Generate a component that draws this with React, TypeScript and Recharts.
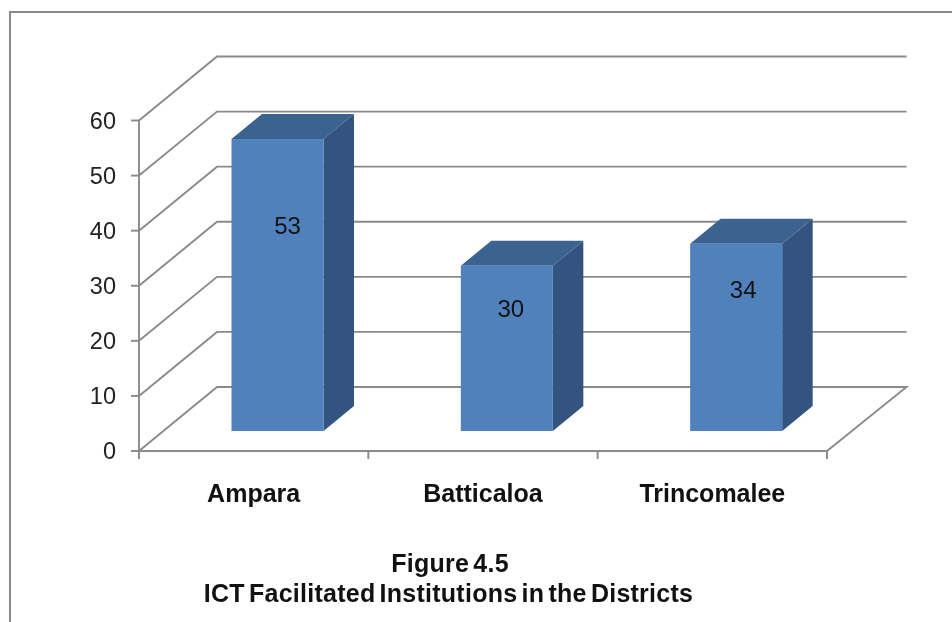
import React from "react";
import { BarChart, Bar, XAxis, YAxis, CartesianGrid, LabelList } from "recharts";

const districts = ["Ampara", "Batticaloa", "Trincomalee"];
const institutions = [53, 30, 34];
const yTicks = [0, 10, 20, 30, 40, 50, 60];
const titleLines = ["Figure 4.5", "ICT Facilitated Institutions in the Districts"];

const rows = districts.map((name, i) => ({ name, value: institutions[i] }));

const WIDTH = 952;
const HEIGHT = 622;
const PLOT_LEFT = 139;
const PLOT_RIGHT = 827;
const PLOT_TOP = 120.5;
const PLOT_BOTTOM = 451;
const BAND = (PLOT_RIGHT - PLOT_LEFT) / districts.length;
const WALL_DX = 78;
const WALL_RIGHT_EXTRA = 1.5;
const WALL_DY = -64;
const BAR_SHIFT_X = 23.5;
const BAR_SHIFT_Y = -20;
const BAR_DEPTH_X = 30.5;
const BAR_DEPTH_Y = -25;
const GREY = "#8a8a8a";
const LINE_W = 1.9;
const FONT = '"Liberation Sans", Arial, sans-serif';
const labelNudgeX = [10, 4, 7];
const labelNudgeY = [86, 43, 46];
const titleX = [450, 448.5];
const titleY = [572, 602];

const GridLine = (p: any) => {
  const { x1, x2, y1 } = p;
  const isFloor = Math.abs(y1 - PLOT_BOTTOM) < 1;
  const d = `M${x1},${y1} L${x1 + WALL_DX},${y1 + WALL_DY} L${x2 + WALL_DX + WALL_RIGHT_EXTRA},${y1 + WALL_DY}` +
    (isFloor ? ` L${x2},${y1}` : "");
  return <path key={p.key ?? y1} d={d} fill="none" stroke={GREY} strokeWidth={LINE_W} />;
};

const Box = (p: any) => {
  const { x, y, width, height } = p;
  const l = x + BAR_SHIFT_X;
  const r = l + width;
  const t = y + BAR_SHIFT_Y;
  const b = t + height;
  const dx = BAR_DEPTH_X;
  const dy = BAR_DEPTH_Y;
  return (
    <g>
      <polygon points={`${l},${t} ${r},${t} ${r + dx},${t + dy} ${l + dx},${t + dy}`} fill="#3c6290" />
      <polygon points={`${r},${t} ${r + dx},${t + dy} ${r + dx},${b + dy} ${r},${b}`} fill="#33547e" />
      <rect x={l} y={t} width={width} height={height} fill="#4f81bd" />
    </g>
  );
};

const ValueLabel = (p: any) => {
  const { x, y, width, value, index } = p;
  return (
    <text
      x={x + BAR_SHIFT_X + width / 2 + labelNudgeX[index]}
      y={y + BAR_SHIFT_Y + labelNudgeY[index]}
      textAnchor="middle"
      dominantBaseline="central"
      fontFamily={FONT}
      fontSize={24}
      fill="#111"
    >
      {value}
    </text>
  );
};

const CategoryTick = (p: any) => {
  const { x, payload, index } = p;
  const left = x - BAND / 2;
  return (
    <g>
      <line x1={left} x2={left} y1={PLOT_BOTTOM} y2={PLOT_BOTTOM + 8} stroke={GREY} strokeWidth={LINE_W} />
      {index === districts.length - 1 && (
        <line x1={left + BAND} x2={left + BAND} y1={PLOT_BOTTOM} y2={PLOT_BOTTOM + 8} stroke={GREY} strokeWidth={LINE_W} />
      )}
      <text x={x} y={PLOT_BOTTOM + 51} textAnchor="middle" fontFamily={FONT} fontWeight="bold" fontSize={25} fill="#111">
        {payload.value}
      </text>
    </g>
  );
};

export default function App() {
  return (
    <div style={{ position: "absolute", left: 0, top: 0, width: WIDTH, height: HEIGHT, background: "#fff", filter: "blur(0.55px)" }}>
      <BarChart
        width={WIDTH}
        height={HEIGHT}
        data={rows}
        barSize={92}
        margin={{ top: PLOT_TOP, right: WIDTH - PLOT_RIGHT, bottom: 0, left: 0 }}
      >
        <path d={`M10,${HEIGHT} L10,12 L${WIDTH},12`} fill="none" stroke={GREY} strokeWidth={2} />
        <CartesianGrid horizontal={GridLine} vertical={false} />
        <XAxis
          dataKey="name"
          height={HEIGHT - PLOT_BOTTOM}
          interval={0}
          tickLine={false}
          tick={CategoryTick}
          axisLine={{ stroke: GREY, strokeWidth: LINE_W }}
        />
        <YAxis
          width={PLOT_LEFT}
          domain={[0, 60]}
          ticks={yTicks}
          tickSize={8}
          tickMargin={15}
          tickLine={{ stroke: GREY, strokeWidth: LINE_W }}
          axisLine={{ stroke: GREY, strokeWidth: LINE_W }}
          tick={{ fontFamily: FONT, fontSize: 23.5, fill: "#222" }}
        />
        <Bar dataKey="value" shape={Box} isAnimationActive={false}>
          <LabelList dataKey="value" content={ValueLabel} />
        </Bar>
        {titleLines.map((line, i) => (
          <text
            key={line}
            x={titleX[i]}
            y={titleY[i]}
            textAnchor="middle"
            fontFamily={FONT}
            fontWeight="bold"
            fontSize={25}
            fill="#111"
            style={{ wordSpacing: "-3px", letterSpacing: "0.25px" }}
          >
            {line}
          </text>
        ))}
      </BarChart>
    </div>
  );
}
